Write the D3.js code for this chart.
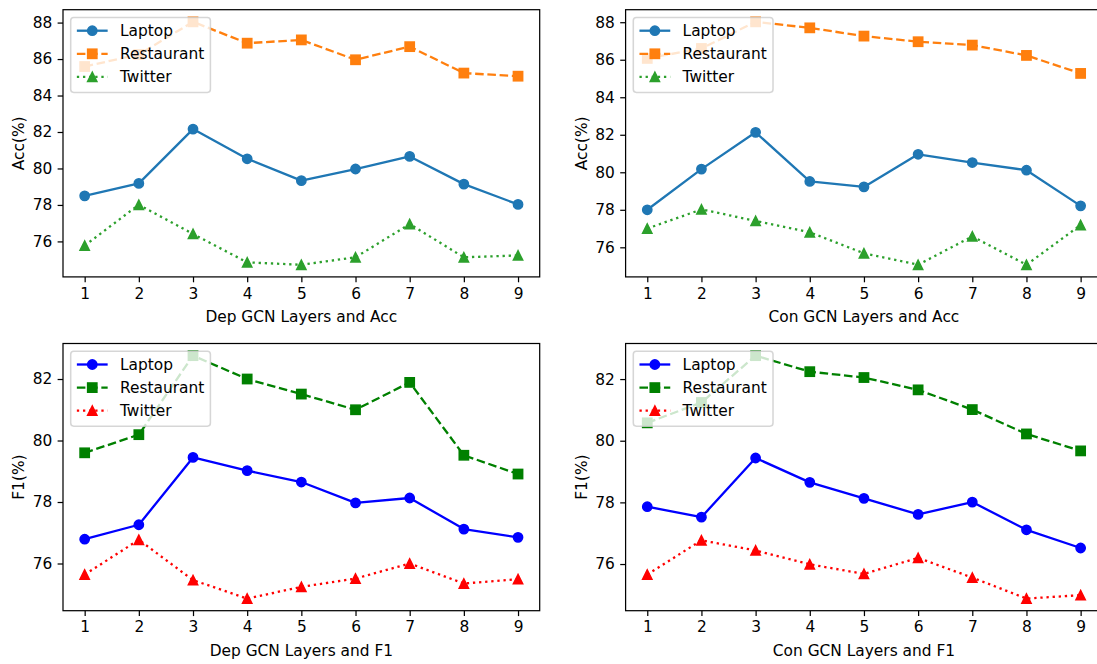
<!DOCTYPE html>
<html>
<head>
<meta charset="utf-8">
<script src="https://cdn.jsdelivr.net/npm/d3@7"></script>
<style>
  body { margin: 0; background: #fff; }
  svg { display: block; font-family: "DejaVu Sans", sans-serif; }
</style>
</head>
<body>
<script>
// layers on the x axis
let layers = [1, 2, 3, 4, 5, 6, 7, 8, 9]
let seriesNames = ['Laptop', 'Restaurant', 'Twitter']

// accuracy, dep GCN
let depAccLaptop = [78.50, 79.18, 82.16, 80.53, 79.33, 79.97, 80.66, 79.14, 78.03]
let depAccRestaurant = [85.59, 86.25, 88.04, 86.87, 87.05, 85.96, 86.68, 85.23, 85.06]
let depAccTwitter = [75.77, 78.01, 76.41, 74.85, 74.72, 75.13, 76.95, 75.13, 75.23]

// accuracy, con GCN
let conAccLaptop = [78.00, 80.17, 82.13, 79.51, 79.22, 80.96, 80.52, 80.11, 78.21]
let conAccRestaurant = [86.07, 86.60, 88.02, 87.70, 87.26, 86.96, 86.78, 86.23, 85.27]
let conAccTwitter = [77.00, 78.02, 77.41, 76.80, 75.68, 75.07, 76.58, 75.07, 77.19]

// F1, dep GCN
let depF1Laptop = [76.79, 77.26, 79.45, 79.02, 78.65, 77.97, 78.13, 77.12, 76.85]
let depF1Restaurant = [79.60, 80.19, 82.76, 82.00, 81.51, 81.00, 81.89, 79.52, 78.91]
let depF1Twitter = [75.64, 76.77, 75.46, 74.86, 75.24, 75.51, 76.00, 75.35, 75.49]

// F1, con GCN
let conF1Laptop = [77.86, 77.52, 79.44, 78.65, 78.13, 77.61, 78.01, 77.11, 76.52]
let conF1Restaurant = [80.58, 81.24, 82.76, 82.24, 82.05, 81.65, 81.01, 80.22, 79.67]
let conF1Twitter = [75.66, 76.77, 76.44, 75.99, 75.68, 76.20, 75.56, 74.88, 74.99]

let accTicks = [76, 78, 80, 82, 84, 86, 88]
let f1Ticks = [76, 78, 80, 82]

let width = 1097
let height = 664
let pt = 1.54            // px per point
let fontSize = 10 * pt

let topColors = ['#1f77b4', '#ff7f0e', '#2ca02c']
let bottomColors = ['#0000ff', '#008000', '#ff0000']
let markers = ['circle', 'square', 'triangle']
let dashes = [null, [3.7 * 1.5 * pt, 1.6 * 1.5 * pt], [1 * 1.5 * pt, 1.65 * 1.5 * pt]]

let panels = [
    { left: 63, top: 9.7, series: [depAccLaptop, depAccRestaurant, depAccTwitter], ticks: accTicks, ylabel: 'Acc(%)', xlabel: 'Dep GCN Layers and Acc', colors: topColors },
    { left: 625.6, top: 9.7, series: [conAccLaptop, conAccRestaurant, conAccTwitter], ticks: accTicks, ylabel: 'Acc(%)', xlabel: 'Con GCN Layers and Acc', colors: topColors },
    { left: 63, top: 343.5, series: [depF1Laptop, depF1Restaurant, depF1Twitter], ticks: f1Ticks, ylabel: 'F1(%)', xlabel: 'Dep GCN Layers and F1', colors: bottomColors },
    { left: 625.6, top: 343.5, series: [conF1Laptop, conF1Restaurant, conF1Twitter], ticks: f1Ticks, ylabel: 'F1(%)', xlabel: 'Con GCN Layers and F1', colors: bottomColors }
]
let axW = 476.7
let axH = 267.2

let svg = d3.select('body').append('svg')
    .attr('width', width)
    .attr('height', height)

svg.append('rect').attr('width', width).attr('height', height).attr('fill', '#fff')

function drawMarker(g, type, x, y, color) {
    let r = 3 * pt
    if (type === 'circle') {
        g.append('circle').attr('cx', x).attr('cy', y).attr('r', r)
            .attr('fill', color).attr('stroke', color).attr('stroke-width', pt)
    } else if (type === 'square') {
        g.append('rect').attr('x', x - r).attr('y', y - r).attr('width', 2 * r).attr('height', 2 * r)
            .attr('fill', color).attr('stroke', color).attr('stroke-width', pt)
    } else {
        g.append('path').attr('d', 'M' + x + ',' + (y - r) + 'L' + (x - r) + ',' + (y + r) + 'L' + (x + r) + ',' + (y + r) + 'Z')
            .attr('fill', color).attr('stroke', color).attr('stroke-width', pt).attr('stroke-linejoin', 'miter')
    }
}

panels.forEach(p => {
    let all = [].concat(...p.series)
    let lo = d3.min(all), hi = d3.max(all)
    let m = (hi - lo) * 0.05

    let x = d3.scaleLinear().domain([1 - 0.4, 9 + 0.4]).range([p.left, p.left + axW])
    let y = d3.scaleLinear().domain([lo - m, hi + m]).range([p.top + axH, p.top])

    let g = svg.append('g')

    // clip to the axes box
    let clipId = 'clip' + Math.round(p.left) + Math.round(p.top)
    g.append('clipPath').attr('id', clipId).append('rect')
        .attr('x', p.left).attr('y', p.top).attr('width', axW).attr('height', axH)

    let plot = g.append('g').attr('clip-path', 'url(#' + clipId + ')')

    p.series.forEach((vals, i) => {
        let line = d3.line().x((d, j) => x(layers[j])).y(d => y(d))
        plot.append('path')
            .attr('d', line(vals))
            .attr('fill', 'none')
            .attr('stroke', p.colors[i])
            .attr('stroke-width', 1.5 * pt)
            .attr('stroke-linejoin', 'round')
            .attr('stroke-dasharray', dashes[i] ? dashes[i].join(',') : null)
        vals.forEach((v, j) => drawMarker(plot, markers[i], x(layers[j]), y(v), p.colors[i]))
    })

    // x axis
    let xAxis = d3.axisBottom(x).tickValues(layers).tickSize(3.5 * pt).tickPadding(3.5 * pt).tickFormat(d3.format('d'))
    let gx = g.append('g').attr('transform', 'translate(0,' + (p.top + axH) + ')').call(xAxis)
    gx.select('.domain').remove()

    let yAxis = d3.axisLeft(y).tickValues(p.ticks).tickSize(3.5 * pt).tickPadding(3.5 * pt).tickFormat(d3.format('d'))
    let gy = g.append('g').attr('transform', 'translate(' + p.left + ',0)').call(yAxis)
    gy.select('.domain').remove()

    g.selectAll('.tick line').attr('stroke', '#000').attr('stroke-width', 0.8 * pt)
    g.selectAll('.tick text').attr('fill', '#000').attr('font-size', fontSize)
        .attr('font-family', '"DejaVu Sans", sans-serif')

    // spines
    g.append('rect')
        .attr('x', p.left).attr('y', p.top).attr('width', axW).attr('height', axH)
        .attr('fill', 'none').attr('stroke', '#000').attr('stroke-width', 0.8 * pt)

    g.append('text')
        .attr('x', p.left + axW / 2)
        .attr('y', p.top + axH + 45.5)
        .attr('text-anchor', 'middle')
        .attr('font-size', fontSize)
        .text(p.xlabel)

    g.append('text')
        .attr('transform', 'translate(' + (p.left - 39) + ',' + (p.top + axH / 2) + ') rotate(-90)')
        .attr('text-anchor', 'middle')
        .attr('font-size', fontSize)
        .text(p.ylabel)

    // legend
    let lx = p.left + 0.5 * fontSize
    let ly = p.top + 0.5 * fontSize
    let leg = g.append('g')
    let frame = leg.append('rect')
    let maxW = 0
    seriesNames.forEach((name, i) => {
        let cy = ly + 13.3 + i * 23.1
        let hx0 = lx + 0.4 * fontSize
        let hx1 = hx0 + 2 * fontSize
        leg.append('line')
            .attr('x1', hx0).attr('x2', hx1).attr('y1', cy).attr('y2', cy)
            .attr('stroke', p.colors[i]).attr('stroke-width', 1.5 * pt)
            .attr('stroke-dasharray', dashes[i] ? dashes[i].join(',') : null)
        drawMarker(leg, markers[i], (hx0 + hx1) / 2, cy, p.colors[i])
        let t = leg.append('text')
            .attr('x', hx1 + 0.8 * fontSize)
            .attr('y', cy)
            .attr('dy', '0.35em')
            .attr('font-size', fontSize)
            .text(name)
        maxW = Math.max(maxW, t.node().getComputedTextLength())
    })
    frame.attr('x', lx).attr('y', ly)
        .attr('width', 0.4 * fontSize + 2 * fontSize + 0.8 * fontSize + maxW + 0.4 * fontSize)
        .attr('height', 75)
        .attr('rx', 0.2 * fontSize)
        .attr('fill', '#fff').attr('fill-opacity', 0.8)
        .attr('stroke', '#ccc').attr('stroke-opacity', 0.8).attr('stroke-width', pt)
})
</script>
</body>
</html>
